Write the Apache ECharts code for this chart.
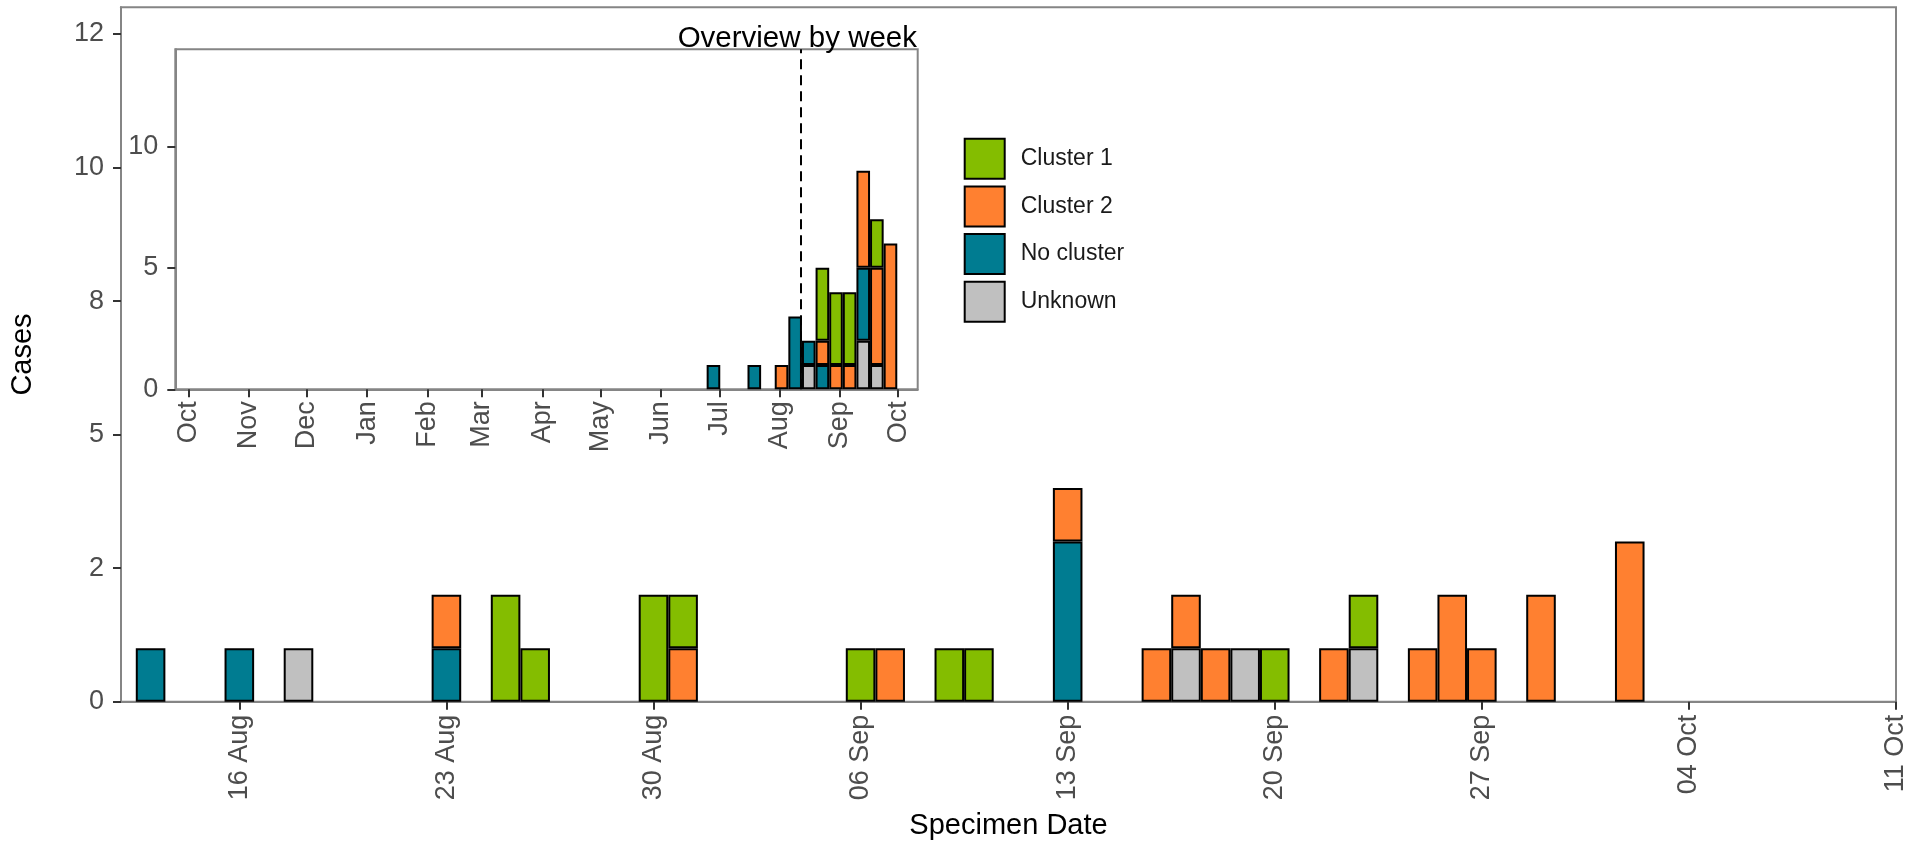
<!DOCTYPE html>
<html>
<head>
<meta charset="utf-8">
<script src="https://cdn.jsdelivr.net/npm/echarts@6/dist/echarts.min.js"></script>
<style>
html,body{margin:0;padding:0;background:#fff;}
#chart{width:1924px;height:843px;}
</style>
</head>
<body>
<div id="chart"></div>
<script>
// ---------- Daily data (main epicurve) ----------
const dayDates = ['2021-08-13','2021-08-16','2021-08-18','2021-08-23','2021-08-25','2021-08-26','2021-08-30','2021-08-31',
  '2021-09-06','2021-09-07','2021-09-09','2021-09-10','2021-09-13','2021-09-16','2021-09-17','2021-09-18','2021-09-19',
  '2021-09-20','2021-09-22','2021-09-23','2021-09-25','2021-09-26','2021-09-27','2021-09-29','2021-10-02'];
const dayCluster1  = [0,0,0,0,2,1,2,1,1,0,1,1,0,0,0,0,0,1,0,1,0,0,0,0,0];
const dayCluster2  = [0,0,0,1,0,0,0,1,0,1,0,0,1,1,1,1,0,0,1,0,1,2,1,2,3];
const dayNoCluster = [1,1,0,1,0,0,0,0,0,0,0,0,3,0,0,0,0,0,0,0,0,0,0,0,0];
const dayUnknown   = [0,0,1,0,0,0,0,0,0,0,0,0,0,0,1,0,1,0,0,1,0,0,0,0,0];

// ---------- Weekly data (inset overview) ----------
const weekStarts = ['2021-06-28','2021-07-19','2021-08-02','2021-08-09','2021-08-16','2021-08-23','2021-08-30',
  '2021-09-06','2021-09-13','2021-09-20','2021-09-27'];
const weekCluster1  = [0,0,0,0,0,3,3,3,0,2,0];
const weekCluster2  = [0,0,1,0,0,1,1,1,4,4,6];
const weekNoCluster = [1,1,0,3,1,1,0,0,3,0,0];
const weekUnknown   = [0,0,0,0,1,0,0,0,2,1,0];

// ---------- Axes / ticks ----------
const mainXMin = '2021-08-12', mainXMax = '2021-10-11';
const mainXTickDates  = ['2021-08-16','2021-08-23','2021-08-30','2021-09-06','2021-09-13','2021-09-20','2021-09-27','2021-10-04','2021-10-11'];
const mainXTickLabels = ['16 Aug','23 Aug','30 Aug','06 Sep','13 Sep','20 Sep','27 Sep','04 Oct','11 Oct'];
const mainYMax = 13;
const mainYTickValues = [0, 2.5, 5, 7.5, 10, 12.5];
const mainYTickLabels = ['0','2','5','8','10','12'];

const insetXMin = '2020-09-24T08:00:00Z', insetXMax = '2021-10-11';
const insetXTickDates  = ['2020-10-01','2020-11-01','2020-12-01','2021-01-01','2021-02-01','2021-03-01','2021-04-01',
  '2021-05-01','2021-06-01','2021-07-01','2021-08-01','2021-09-01','2021-10-01'];
const insetXTickLabels = ['Oct','Nov','Dec','Jan','Feb','Mar','Apr','May','Jun','Jul','Aug','Sep','Oct'];
const insetYMax = 14;
const insetYTickValues = [0, 5, 10];
const insetYTickLabels = ['0','5','10'];
const overviewStart = '2021-08-12';

const categories = ['Cluster 1','Cluster 2','No cluster','Unknown'];
const colors = {'Cluster 1':'#84BD00','Cluster 2':'#FF8030','No cluster':'#007C91','Unknown':'#C0C0C0'};

// ---------- helpers ----------
const ts = s => (s.length === 10 ? Date.parse(s + 'T00:00:00Z') : Date.parse(s));
const FONT = '"Liberation Sans", Arial, sans-serif';
const AXIS_GREY = '#858585';
const TICK_COLOR = '#333333';
const LABEL_COLOR = '#4d4d4d';

// [count, date] so that the count is the stacked dimension
function pairs(dates, vals) {
  return dates.map((d, i) => [vals[i] > 0 ? vals[i] : '-', ts(d)]);
}
function labelFor(values, labels) {
  return v => { const i = values.findIndex(t => Math.abs(t - v) < 1e-6); return i >= 0 ? labels[i] : ''; };
}

const mainSeriesVals = {'Cluster 1':dayCluster1,'Cluster 2':dayCluster2,'No cluster':dayNoCluster,'Unknown':dayUnknown};
const weekSeriesVals = {'Cluster 1':weekCluster1,'Cluster 2':weekCluster2,'No cluster':weekNoCluster,'Unknown':weekUnknown};
const stackOrder = ['Unknown','No cluster','Cluster 2','Cluster 1']; // bottom -> top

const series = [];
series.push({
  type: 'line', xAxisIndex: 1, yAxisIndex: 1, z: 2, silent: true,
  symbol: 'none', animation: false,
  data: [[ts(overviewStart), 0], [ts(overviewStart), insetYMax]],
  lineStyle: { color: '#000', width: 2, type: [10, 6] }
});
stackOrder.forEach(name => {
  series.push({
    name, type: 'bar', stack: 'main', xAxisIndex: 0, yAxisIndex: 0, z: 3,
    encode: { x: 1, y: 0 },
    barWidth: '100%', animation: false,
    itemStyle: { color: colors[name], borderColor: '#000', borderWidth: 2 },
    data: pairs(dayDates, mainSeriesVals[name])
  });
});
stackOrder.forEach(name => {
  series.push({
    name, type: 'bar', stack: 'inset', xAxisIndex: 1, yAxisIndex: 1, z: 3,
    encode: { x: 1, y: 0 },
    barWidth: '100%', animation: false,
    itemStyle: { color: colors[name], borderColor: '#000', borderWidth: 2 },
    data: pairs(weekStarts, weekSeriesVals[name])
  });
});

const mainXTicks = mainXTickDates.map(ts);
const insetXTicks = insetXTickDates.map(ts);

const option = {
  animation: false,
  backgroundColor: '#ffffff',
  textStyle: { fontFamily: FONT },
  title: {
    text: 'Overview by week', right: 1007, top: 24, padding: 0,
    textStyle: { fontFamily: FONT, fontSize: 29.5, fontWeight: 'normal', color: '#000' }
  },
  legend: {
    data: categories, orient: 'vertical', left: 963.7, top: 137.7, padding: 0,
    itemWidth: 40, itemHeight: 40, itemGap: 5.7, icon: 'rect',
    itemStyle: { borderColor: '#000', borderWidth: 2 },
    textStyle: { fontFamily: FONT, fontSize: 23, color: '#1a1a1a', padding: [0, 0, 0, 11] },
    selectedMode: false
  },
  grid: [
    { left: 121, top: 7.3, width: 1775, height: 694.4, show: true, borderColor: AXIS_GREY, borderWidth: 2,
      backgroundColor: 'transparent', containLabel: false, outerBoundsMode: 'none' },
    { left: 175.3, top: 49.3, width: 742.4, height: 340, show: true, borderColor: AXIS_GREY, borderWidth: 2,
      backgroundColor: '#ffffff', containLabel: false, outerBoundsMode: 'none' }
  ],
  xAxis: [
    {
      type: 'value', gridIndex: 0, min: ts(mainXMin), max: ts(mainXMax),
      name: 'Specimen Date', nameLocation: 'middle', nameGap: 110,
      nameTextStyle: { fontFamily: FONT, fontSize: 29, color: '#000' },
      axisLine: { show: true, lineStyle: { color: AXIS_GREY, width: 2 } },
      axisTick: { show: true, length: 8, lineStyle: { color: TICK_COLOR, width: 2 }, customValues: mainXTicks },
      axisLabel: { show: true, rotate: 90, margin: 13, fontFamily: FONT, fontSize: 27, color: LABEL_COLOR,
        customValues: mainXTicks, formatter: labelFor(mainXTicks, mainXTickLabels) },
      splitLine: { show: false }
    },
    {
      type: 'value', gridIndex: 1, min: ts(insetXMin), max: ts(insetXMax),
      axisLine: { show: true, lineStyle: { color: AXIS_GREY, width: 2 } },
      axisTick: { show: true, length: 8, lineStyle: { color: TICK_COLOR, width: 2 }, customValues: insetXTicks },
      axisLabel: { show: true, rotate: 90, margin: 12, fontFamily: FONT, fontSize: 27, color: LABEL_COLOR,
        customValues: insetXTicks, formatter: labelFor(insetXTicks, insetXTickLabels) },
      splitLine: { show: false }
    }
  ],
  yAxis: [
    {
      type: 'value', gridIndex: 0, min: 0, max: mainYMax,
      name: 'Cases', nameLocation: 'middle', nameGap: 84,
      nameTextStyle: { fontFamily: FONT, fontSize: 29, color: '#000' },
      axisLine: { show: true, lineStyle: { color: AXIS_GREY, width: 2 } },
      axisTick: { show: true, length: 8, lineStyle: { color: TICK_COLOR, width: 2 }, customValues: mainYTickValues },
      axisLabel: { margin: 17, fontFamily: FONT, fontSize: 27, color: LABEL_COLOR,
        customValues: mainYTickValues, formatter: labelFor(mainYTickValues, mainYTickLabels) },
      splitLine: { show: false }
    },
    {
      type: 'value', gridIndex: 1, min: 0, max: insetYMax,
      axisLine: { show: true, lineStyle: { color: AXIS_GREY, width: 2 } },
      axisTick: { show: true, length: 8, lineStyle: { color: TICK_COLOR, width: 2 }, customValues: insetYTickValues },
      axisLabel: { margin: 17, fontFamily: FONT, fontSize: 27, color: LABEL_COLOR,
        customValues: insetYTickValues, formatter: labelFor(insetYTickValues, insetYTickLabels) },
      splitLine: { show: false }
    }
  ],
  series
};

const chart = echarts.init(document.getElementById('chart'), null, { renderer: 'canvas' });
chart.setOption(option);
</script>
</body>
</html>
